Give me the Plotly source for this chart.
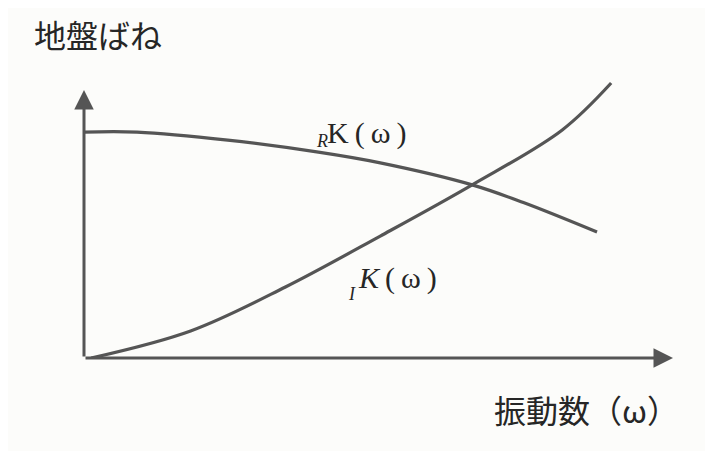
import plotly.graph_objects as go

# Data (arbitrary units)
rk_x = [0.0, 0.90, 2.44, 3.98, 5.03, 6.59, 7.46, 8.71]
rk_y = [8.43, 8.43, 8.13, 7.68, 7.28, 6.46, 5.80, 4.70]
ik_x = [0.12, 1.81, 3.42, 5.03, 6.59, 8.12, 8.95]
ik_y = [0.0, 1.01, 2.65, 4.55, 6.46, 8.51, 10.26]

title_text = "地盤ばね"
xlabel_text = "振動数（ω）"

LINE = "#555555"
TXT = "#262626"
BG = "#fcfcfa"

fig = go.Figure()
fig.add_trace(go.Scatter(x=rk_x, y=rk_y, mode="lines",
                         line=dict(color=LINE, width=3.2, shape="spline", smoothing=1.0),
                         hoverinfo="skip", showlegend=False))
fig.add_trace(go.Scatter(x=ik_x, y=ik_y, mode="lines",
                         line=dict(color=LINE, width=3.2, shape="spline", smoothing=1.0),
                         hoverinfo="skip", showlegend=False))

ann = []
# axes arrows
ann.append(dict(x=0, y=10.0, ax=0, ay=0, xref="x", yref="y", axref="x", ayref="y",
                showarrow=True, arrowhead=2, arrowsize=1.3, arrowwidth=3,
                arrowcolor=LINE, text=""))
ann.append(dict(x=10.0, y=0, ax=0, ay=0, xref="x", yref="y", axref="x", ayref="y",
                showarrow=True, arrowhead=2, arrowsize=1.3, arrowwidth=3,
                arrowcolor=LINE, text=""))

serif = "Liberation Serif"
# R K(ω)
ann.append(dict(x=3.90, y=8.10, xref="x", yref="y", xanchor="left", yanchor="middle",
                text="<i>R</i>", showarrow=False, font=dict(family=serif, size=18, color=TXT)))
ann.append(dict(x=4.10, y=8.40, xref="x", yref="y", xanchor="left", yanchor="middle",
                text="K\u2009(\u2009ω\u2009)", showarrow=False,
                font=dict(family=serif, size=30, color=TXT)))
# I K(ω)
ann.append(dict(x=4.45, y=2.40, xref="x", yref="y", xanchor="left", yanchor="middle",
                text="<i>I</i>", showarrow=False, font=dict(family=serif, size=18, color=TXT)))
ann.append(dict(x=4.62, y=2.99, xref="x", yref="y", xanchor="left", yanchor="middle",
                text="<i>K</i>\u2009(\u2009ω\u2009)", showarrow=False,
                font=dict(family=serif, size=30, color=TXT)))

# titles
ann.append(dict(x=-0.088, y=1.165, xref="paper", yref="paper", xanchor="left", yanchor="middle",
                text=title_text, showarrow=False,
                font=dict(family="Noto Sans CJK JP", size=32, color=TXT)))
ann.append(dict(x=0.693, y=-0.183, xref="paper", yref="paper", xanchor="left", yanchor="middle",
                text=xlabel_text, showarrow=False,
                font=dict(family="Noto Sans CJK JP", size=32, color=TXT)))

fig.update_layout(
    width=713, height=451,
    margin=dict(l=76, r=48, t=72, b=101),
    paper_bgcolor=BG, plot_bgcolor=BG,
    xaxis=dict(range=[0, 10], visible=False, fixedrange=True),
    yaxis=dict(range=[0, 10.373], visible=False, fixedrange=True),
    annotations=ann,
    showlegend=False,
)

fig.write_html("out.html", config={"displayModeBar": False})
